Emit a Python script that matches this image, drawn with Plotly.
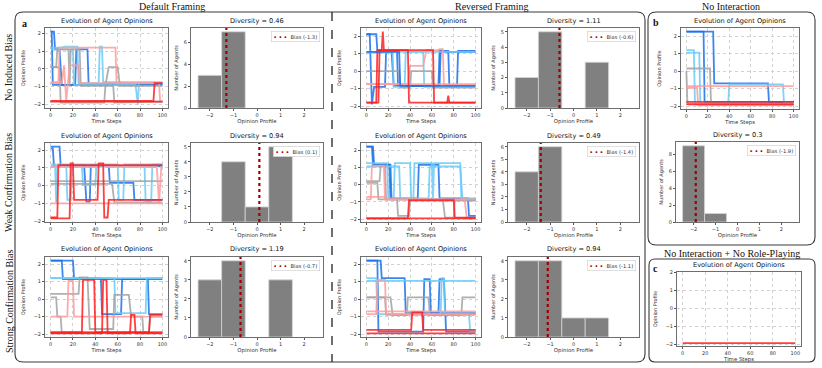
import plotly.graph_objects as go

W, H = 822, 368
SANS = "DejaVu Sans"
SERIF = "Liberation Serif"

COLORS = {
    "b2": "#1c72ea",
    "b1": "#6ccbf7",
    "g": "#a3a3a3",
    "p": "#ff9c9c",
    "r": "#ff1f1f",
}

TIME_TICKS = [0, 20, 40, 60, 80, 100]
OPINION_TICKS = [-2, -1, 0, 1, 2]
OPINION_BINS = [-2, -1, 0, 1, 2]

# agent trajectories: (colour key, [(step, opinion), ...])
DEFAULT_NONE = [
    ("b2", [(0, 2.1), (3, 2.1), (4, 1.1), (8, 1.1), (10, -0.9), (100, -0.9)]),
    ("b2", [(0, 2.1), (1, 2.1), (2, -0.9), (22, -0.9), (23, 1.1), (33, 1.1), (34, -0.85), (100, -0.85)]),
    ("b1", [(0, 1.2), (10, 1.2), (12, 1.25), (24, 1.25), (25, -0.8), (43, -0.8), (44, 1.25), (46, 1.25),
            (47, -0.75), (100, -0.75)]),
    ("b1", [(0, 1.1), (20, 1.1), (21, -0.9), (76, -0.9), (78, -2.0), (79, -0.8), (100, -0.8)]),
    ("g", [(0, 0.1), (5, 0.1), (6, 1.1), (16, 1.1), (17, -0.95), (18, 1.1), (26, 1.1), (27, -0.95), (49, -0.95),
           (52, 0.1), (60, 0.1), (62, -0.95), (100, -0.95)]),
    ("g", [(0, 0.1), (8, 0.1), (9, -1.9), (48, -1.9), (49, -0.95), (56, -0.95), (57, -1.9), (100, -1.85)]),
    ("p", [(0, -0.75), (7, -0.75), (8, 1.2), (58, 1.2), (59, -0.8), (100, -0.8)]),
    ("p", [(0, -0.8), (10, -0.8), (12, 0.2), (14, -1.8), (17, 0.2), (25, 0.2), (26, -0.8), (97, -0.8),
           (98, -1.85), (100, -1.85)]),
    ("r", [(0, -1.85), (100, -1.85)]),
    ("r", [(0, -1.8), (92, -1.8), (93, -0.8), (100, -0.8)]),
]
DEFAULT_WEAK = [
    ("b2", [(0, 2.2), (8, 2.2), (9, 1.15), (30, 1.15), (32, -0.9), (35, -0.9), (36, 1.15), (52, 1.15),
            (53, 0.15), (74, 0.15), (75, -0.8), (100, -0.8)]),
    ("b2", [(0, 2.1), (2, 2.1), (3, 1.1), (100, 1.1)]),
    ("b1", [(0, 1.2), (4, 1.2), (5, -0.95), (6, 1.2), (60, 1.2), (61, -0.8), (65, -0.8), (66, 1.2), (100, 1.2)]),
    ("b1", [(0, 1.1), (14, 1.1), (15, -0.8), (18, -0.8), (19, 1.1), (28, 1.1), (29, 0.05), (40, 0.05),
            (41, 1.1), (84, 1.1), (85, -0.9), (90, -0.9), (91, 1.2), (100, 1.2)]),
    ("g", [(0, 0.25), (100, 0.25)]),
    ("g", [(0, 0.1), (55, 0.1), (57, -0.95), (100, -0.95)]),
    ("p", [(0, -1.0), (100, -1.0)]),
    ("p", [(0, 1.05), (43, 1.05), (44, 1.2), (48, 1.2), (49, 1.05), (95, 1.05), (97, -1.0), (99, 1.05),
           (100, 1.05)]),
    ("r", [(0, -1.8), (6, -1.8), (7, 1.15), (100, 1.15)]),
    ("r", [(0, -1.85), (17, -1.85), (18, 1.25), (20, 1.25), (21, -0.8), (42, -0.8), (43, 1.25), (47, 1.25),
           (48, -1.8), (51, -1.8), (52, -0.8), (100, -0.8)]),
]
DEFAULT_STRONG = [
    ("b2", [(0, 2.2), (10, 2.2), (11, 1.15), (100, 1.15)]),
    ("b2", [(0, 2.2), (20, 2.2), (21, 1.2), (45, 1.2), (46, -0.85), (63, -0.85), (64, 1.15), (87, 1.15),
            (88, -0.85), (100, -0.85)]),
    ("b1", [(0, 1.2), (57, 1.2), (58, -0.8), (85, -0.8), (86, 1.2), (100, 1.2)]),
    ("b1", [(0, 1.2), (100, 1.2)]),
    ("g", [(0, 0.1), (5, 0.1), (6, -1.0), (9, -1.0), (10, -1.9), (100, -1.9)]),
    ("g", [(0, 0.3), (25, 0.3), (26, 1.25), (33, 1.25), (35, -1.7), (56, -1.7), (57, 0.25), (70, 0.25),
           (72, -1.0), (82, -1.0), (83, -1.9), (88, -1.9), (89, -1.0), (100, -1.0)]),
    ("p", [(0, -1.0), (15, -1.0), (16, 1.05), (20, 1.05), (21, -1.0), (100, -1.0)]),
    ("r", [(0, -1.9), (28, -1.9), (29, 1.1), (39, 1.1), (40, -1.9), (100, -1.9)]),
    ("r", [(0, -1.95), (46, -1.95), (47, 1.1), (50, 1.1), (51, -1.95), (71, -1.95), (72, -0.9), (75, -0.9),
           (76, -1.95), (100, -1.95)]),
    ("r", [(0, -1.9), (88, -1.9), (89, -0.9), (100, -0.9)]),
]
REVERSED_NONE = [
    ("b2", [(0, 2.1), (3, 2.1), (5, -1.9), (7, -0.9), (17, -0.9), (18, 1.1), (23, 1.1), (25, -0.85),
            (67, -0.85), (68, 1.1), (100, 1.1)]),
    ("b2", [(0, 2.1), (9, 2.1), (10, 1.15), (28, 1.15), (29, -0.85), (66, -0.85), (67, 1.15), (75, 1.15),
            (76, -0.9), (83, -0.9), (84, 1.15), (100, 1.15)]),
    ("b1", [(0, 1.1), (100, 1.1)]),
    ("b1", [(0, 1.05), (24, 1.05), (25, -0.9), (35, -0.9), (36, 1.1), (52, 1.1), (53, -0.9), (100, -0.9)]),
    ("g", [(0, 0.0), (30, 0.0), (31, -0.95), (40, -0.95), (41, 0.0), (60, 0.0), (61, -0.95), (100, -0.95)]),
    ("p", [(0, -0.75), (100, -0.75)]),
    ("p", [(0, -0.75), (38, -0.75), (40, 0.3), (52, 0.3), (55, 1.2), (66, 1.2), (67, 1.25), (70, 1.25),
           (71, -0.8), (100, -0.8)]),
    ("r", [(0, -1.8), (9, -1.8), (10, 1.2), (14, 1.2), (15, 2.25), (16, 1.2), (38, 1.2), (39, -1.8),
           (100, -1.8)]),
    ("r", [(0, -1.8), (11, -1.8), (12, 1.2), (61, 1.2), (62, -1.8), (74, -1.8), (75, -1.4), (76, -1.8),
           (100, -1.8)]),
    ("b2", [(0, 1.1), (30, 1.1), (31, -0.85), (100, -0.85)]),
]
REVERSED_WEAK = [
    ("b2", [(0, 2.2), (6, 2.2), (7, 1.15), (21, 1.15), (22, -0.8), (47, -0.8), (48, 1.15), (66, 1.15),
            (67, -0.8), (93, -0.8), (94, -1.8), (100, -1.8)]),
    ("b2", [(0, 2.2), (5, 2.2), (6, 1.15), (22, 1.15), (23, -0.85), (100, -0.85)]),
    ("b1", [(0, 1.25), (19, 1.25), (20, -0.8), (25, -0.8), (26, 1.25), (40, 1.25), (41, -0.8), (43, -0.8),
            (44, 1.25), (60, 1.25), (61, -0.8), (62, 1.25), (86, 1.25), (87, -0.8), (100, -0.8)]),
    ("b1", [(0, 1.05), (30, 1.05), (31, -0.8), (57, -0.8), (58, 1.05), (86, 1.05), (88, -0.85), (100, -0.85)]),
    ("g", [(0, 0.2), (12, 0.2), (13, 1.1), (17, 1.1), (18, -0.85), (28, -0.85), (29, -1.8), (39, -1.8),
           (40, -0.9), (100, -0.9)]),
    ("g", [(0, 0.1), (10, 0.1), (11, -0.85), (70, -0.85), (72, -1.9), (80, -1.9), (81, -0.9), (100, -0.9)]),
    ("p", [(0, -0.85), (4, -0.85), (5, 1.1), (16, 1.1), (17, -0.85), (100, -0.85)]),
    ("p", [(0, -0.7), (17, -0.7), (18, -0.85), (90, -0.85), (92, -1.95), (100, -1.95)]),
    ("r", [(0, -1.95), (38, -1.95), (39, -0.9), (80, -0.9), (81, -1.9), (100, -1.9)]),
    ("r", [(0, -1.95), (100, -1.95)]),
]
REVERSED_STRONG = [
    ("b2", [(0, 2.2), (10, 2.2), (11, -1.85), (52, -1.85), (53, 1.15), (58, 1.15), (59, -0.8), (100, -0.8)]),
    ("b2", [(0, 2.2), (13, 2.2), (14, 1.2), (35, 1.2), (36, -0.8), (66, -0.8), (67, 1.15), (71, 1.15),
            (73, -1.85), (100, -1.85)]),
    ("b1", [(0, 1.05), (100, 1.05)]),
    ("b1", [(0, 1.2), (9, 1.2), (10, -0.85), (68, -0.85), (69, 1.2), (71, 1.2), (72, -0.85), (94, -0.85),
            (95, -1.8), (100, -1.8)]),
    ("g", [(0, 0.1), (17, 0.1), (18, -0.9), (100, -0.9)]),
    ("g", [(0, 0.1), (22, 0.1), (24, -0.9), (37, -0.9), (38, 0.1), (57, 0.1), (58, -0.9), (87, -0.9),
           (88, 0.1), (100, 0.1)]),
    ("p", [(0, -0.85), (9, -0.85), (10, 1.1), (17, 1.1), (18, -0.85), (100, -0.85)]),
    ("p", [(0, -0.7), (100, -0.7)]),
    ("r", [(0, -1.75), (41, -1.75), (42, -0.75), (51, -0.75), (52, -1.75), (100, -1.75)]),
    ("r", [(0, -1.95), (100, -1.95)]),
]
NO_INTERACTION = [
    ("b2", [(0, 2.25), (16, 2.25), (17, -1.75), (100, -1.75)]),
    ("b2", [(0, 2.25), (25, 2.25), (26, -0.7), (76, -0.7), (77, -1.75), (100, -1.75)]),
    ("b1", [(0, 1.2), (7, 1.2), (8, -1.9), (100, -1.9)]),
    ("b1", [(0, 1.05), (12, 1.05), (13, -1.85), (39, -1.85), (40, -0.75), (90, -0.75), (91, -1.8), (100, -1.8)]),
    ("g", [(0, 0.15), (22, 0.15), (23, -1.9), (100, -1.9)]),
    ("g", [(0, 0.0), (1, -1.85), (100, -1.85)]),
    ("p", [(0, -0.85), (100, -0.85)]),
    ("p", [(0, -0.95), (10, -0.95), (11, -1.95), (100, -1.95)]),
    ("r", [(0, -1.75), (100, -1.75)]),
    ("r", [(0, -1.9), (100, -1.9)]),
]
NO_ROLE_PLAY = [
    ("r", [(0, -1.95), (100, -1.95)]),
]

# final opinion histograms (counts per bin in OPINION_BINS), bias and diversity
DEFAULT_NONE_COUNTS = [3, 7, 0, 0, 0]
DEFAULT_WEAK_COUNTS = [0, 4, 1, 5, 0]
DEFAULT_STRONG_COUNTS = [3, 4, 0, 3, 0]
REVERSED_NONE_COUNTS = [2, 5, 0, 3, 0]
REVERSED_WEAK_COUNTS = [4, 6, 0, 0, 0]
REVERSED_STRONG_COUNTS = [4, 4, 1, 1, 0]
NO_INTERACTION_COUNTS = [9, 1, 0, 0, 0]

BIASES = [-1.3, 0.1, -0.7, -0.6, -1.4, -1.1, -1.9]
DIVERSITY = ["0.46", "0.94", "1.19", "1.11", "0.49", "0.94", "0.3"]

ROW_LABELS = ["No Induced Bias", "Weak Confirmation Bias", "Strong Confirmation Bias"]
HEADERS = ["Default Framing", "Reversed Framing", "No Interaction", "No Interaction + No Role-Playing"]

BIAS_COLOR = "#a30000"
TEXT = "#111111"


def px(x):
    return x / W


def py(y):
    return 1 - y / H


fig = go.Figure()
layout = {}
annotations = []
axis_n = [0]


def new_axes(box):
    axis_n[0] += 1
    n = axis_n[0]
    suffix = "" if n == 1 else str(n)
    l, t, r, b = box
    return suffix, [px(l), px(r)], [py(b), py(t)]


def title_above(box, text):
    l, t, r, b = box
    annotations.append(dict(
        x=px((l + r) / 2), y=py(t - 1.5), xref="paper", yref="paper",
        text=f"<span style='color:{TEXT}'>{text}</span>", showarrow=False,
        xanchor="center", yanchor="bottom",
        font=dict(family=SANS, size=6.6, color=TEXT),
    ))


AX_COMMON = dict(
    showline=True, mirror=True, linecolor="#6e6e6e", linewidth=0.9, automargin=False,
    ticks="outside", ticklen=2, tickwidth=0.7, tickcolor="#555",
    tickfont=dict(family=SANS, size=5, color="#333"), zeroline=False,
)


def line_panel(box, agents, yrange=None):
    s, xd, yd = new_axes(box)
    for key, pts in agents:
        fig.add_trace(go.Scatter(
            x=[p[0] for p in pts], y=[p[1] for p in pts], mode="lines",
            line=dict(color=COLORS[key], width=1.8), opacity=0.85,
            xaxis="x" + s, yaxis="y" + s, showlegend=False, hoverinfo="skip",
        ))
    if yrange is None:
        vals = [p[1] for _, pts in agents for p in pts]
        lo, hi = min(vals), max(vals)
        pad = (hi - lo) * 0.05
        yrange = [lo - pad, hi + pad]
    grid = dict(showgrid=True, gridcolor="#d2d2d2", gridwidth=0.6, griddash="dot")
    layout["xaxis" + s] = dict(
        AX_COMMON, **grid, domain=xd, anchor="y" + s, range=[-5, 105], tickvals=TIME_TICKS,
        title=dict(text="Time Steps", font=dict(family=SANS, size=5.4, color="#333"), standoff=1),
    )
    layout["yaxis" + s] = dict(
        AX_COMMON, **grid, domain=yd, anchor="x" + s, range=yrange, tickvals=OPINION_TICKS,
        title=dict(text="Opinion Profile", font=dict(family=SANS, size=5, color="#333"), standoff=7),
    )
    title_above(box, "Evolution of Agent Opinions")


def hist_panel(box, counts, bias, diversity):
    s, xd, yd = new_axes(box)
    xs = [b for b, c in zip(OPINION_BINS, counts) if c > 0]
    ys = [c for c in counts if c > 0]
    fig.add_trace(go.Bar(
        x=xs, y=ys, width=1, marker=dict(color="#808080", line=dict(color="#d4d4d4", width=0.8)),
        xaxis="x" + s, yaxis="y" + s, showlegend=False, hoverinfo="skip",
    ))
    top = max(counts) * 1.05
    fig.add_trace(go.Scatter(
        x=[bias, bias], y=[0, top], mode="lines", name=f"Bias ({bias})",
        line=dict(color=BIAS_COLOR, width=2.2, dash="dot"),
        xaxis="x" + s, yaxis="y" + s, showlegend=False, hoverinfo="skip",
    ))
    layout["xaxis" + s] = dict(
        AX_COMMON, domain=xd, anchor="y" + s, range=[-2.8, 2.8], tickvals=OPINION_TICKS, showgrid=False,
        title=dict(text="Opinion Profile", font=dict(family=SANS, size=5.4, color="#333"), standoff=1),
    )
    layout["yaxis" + s] = dict(
        AX_COMMON, domain=yd, anchor="x" + s, range=[0, top], dtick=2 if max(counts) > 6 else 1,
        showgrid=False,
        title=dict(text="Number of Agents", font=dict(family=SANS, size=5, color="#333"), standoff=5),
    )
    # small legend box in the upper right corner
    l, t, r, b = box
    annotations.append(dict(
        x=px(r - 3), y=py(t + 3), xref="paper", yref="paper", xanchor="right", yanchor="top",
        text=f"<span style='color:{BIAS_COLOR}'><b>• • •</b></span>  Bias ({bias})",
        showarrow=False, bgcolor="white", bordercolor="#cccccc", borderwidth=0.6, borderpad=2,
        font=dict(family=SANS, size=5.2, color="#333"),
    ))
    title_above(box, f"Diversity = {diversity}")


ROWS = [(28, 108), (143, 222), (257, 337)]
line_sets = [(DEFAULT_NONE, REVERSED_NONE), (DEFAULT_WEAK, REVERSED_WEAK), (DEFAULT_STRONG, REVERSED_STRONG)]
count_sets = [(DEFAULT_NONE_COUNTS, REVERSED_NONE_COUNTS), (DEFAULT_WEAK_COUNTS, REVERSED_WEAK_COUNTS),
              (DEFAULT_STRONG_COUNTS, REVERSED_STRONG_COUNTS)]

for i, (t, b) in enumerate(ROWS):
    line_panel((45, t, 168, b), line_sets[i][0])
    hist_panel((191, t, 323, b), count_sets[i][0], BIASES[i], DIVERSITY[i])
for i, (t, b) in enumerate(ROWS):
    line_panel((361, t, 481, b), line_sets[i][1])
    hist_panel((508, t, 639, b), count_sets[i][1], BIASES[3 + i], DIVERSITY[3 + i])

line_panel((681, 28, 799, 109), NO_INTERACTION)
hist_panel((676, 142, 799, 222), NO_INTERACTION_COUNTS, BIASES[6], DIVERSITY[6])
line_panel((677, 272, 801, 346), NO_ROLE_PLAY, yrange=[-2.11, 2.02])


def rounded_box(x0, y0, x1, y1, r=8):
    X, Y = px, py
    return (f"M {X(x0 + r)},{Y(y0)} L {X(x1 - r)},{Y(y0)} Q {X(x1)},{Y(y0)} {X(x1)},{Y(y0 + r)} "
            f"L {X(x1)},{Y(y1 - r)} Q {X(x1)},{Y(y1)} {X(x1 - r)},{Y(y1)} "
            f"L {X(x0 + r)},{Y(y1)} Q {X(x0)},{Y(y1)} {X(x0)},{Y(y1 - r)} "
            f"L {X(x0)},{Y(y0 + r)} Q {X(x0)},{Y(y0)} {X(x0 + r)},{Y(y0)} Z")


shapes = [
    dict(type="path", xref="paper", yref="paper", path=rounded_box(15, 12, 645, 362),
         line=dict(color="#3a3a3a", width=1.1), fillcolor="rgba(0,0,0,0)"),
    dict(type="path", xref="paper", yref="paper", path=rounded_box(648, 12, 815, 245),
         line=dict(color="#3a3a3a", width=1.1), fillcolor="rgba(0,0,0,0)"),
    dict(type="path", xref="paper", yref="paper", path=rounded_box(649, 259, 815, 362, r=6),
         line=dict(color="#3a3a3a", width=1.1), fillcolor="rgba(0,0,0,0)"),
    dict(type="line", xref="paper", yref="paper", x0=px(332), x1=px(332), y0=py(12), y1=py(362),
         line=dict(color="#222", width=1.3, dash="dash")),
]

CENTER = dict(xref="paper", yref="paper", showarrow=False, xanchor="center", yanchor="middle")
for text, x, y in zip(HEADERS, [172, 492, 731, 731.5], [6.5, 6.5, 6.5, 253]):
    annotations.append(dict(CENTER, x=px(x), y=py(y), text=text,
                            font=dict(family=SERIF, size=10, color="#111")))
for text, y in zip(ROW_LABELS, [68, 183, 302]):
    annotations.append(dict(CENTER, x=px(9), y=py(y), text=text, textangle=-90,
                            font=dict(family=SERIF, size=10, color="#111")))
for text, x, y in [("a", 24, 23), ("b", 656, 22), ("c", 655, 268)]:
    annotations.append(dict(CENTER, x=px(x), y=py(y), text=f"<b>{text}</b>",
                            font=dict(family=SERIF, size=10, color="#111")))

fig.update_layout(
    **layout,
    template="none",
    width=W, height=H, autosize=False,
    margin=dict(l=0, r=0, t=0, b=0),
    paper_bgcolor="white", plot_bgcolor="white",
    shapes=shapes, annotations=annotations, showlegend=False,
)
# the page body keeps its default 8px margin otherwise
fig.write_html("out.html", config={"displayModeBar": False},
               post_script="document.body.style.margin='0px';")
